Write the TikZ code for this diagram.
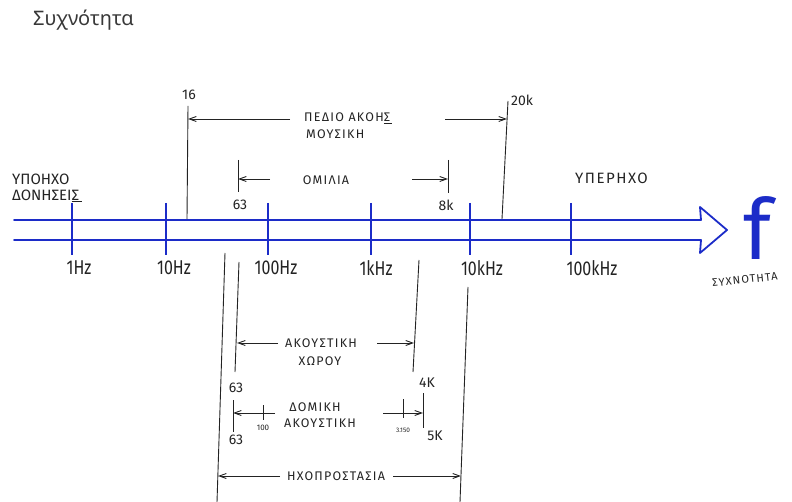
\documentclass[tikz,border=0pt]{standalone}
\usepackage{fontspec}
\setmainfont{Noto Sans}
\newfontfamily\handfont[FakeStretch=0.8]{Fira Sans}
\newfontfamily\notefont[LetterSpace=10]{Fira Sans}
\newfontfamily\numfont{Fira Sans}
\usetikzlibrary{arrows.meta}
\definecolor{axisblue}{RGB}{28,44,200}
\definecolor{ink}{RGB}{35,35,35}
\begin{document}
\begin{tikzpicture}[x=1pt,y=-1pt,
  axisline/.style={draw=axisblue,line width=1.8pt,line join=round,line cap=round},
  tickline/.style={draw=axisblue,line width=2pt},
  dimline/.style={draw=ink,line width=0.9pt},
  dimarrow/.style={dimline,-{Straight Barb[length=7pt,width=5pt]}},
  lbl/.style={font=\handfont\fontsize{20}{20}\selectfont,text=ink,inner sep=0pt},
  note/.style={font=\notefont\fontsize{12.5}{13}\selectfont,text=ink,inner sep=0pt},
  bignote/.style={font=\numfont\fontsize{15}{15}\selectfont,text=ink,inner sep=0pt},
  num/.style={font=\numfont\fontsize{14}{14}\selectfont,text=ink,inner sep=0pt},
  tiny/.style={font=\numfont\fontsize{8}{8}\selectfont,text=ink,inner sep=0pt}]
\useasboundingbox (0,0) rectangle (792,502);
% title
\node[font=\fontsize{20}{20}\selectfont,text=black!78,anchor=west,inner sep=0pt] (title) at (33,20) {Συχνότητα};
% main axis arrow
\coordinate (a1) at (14,220); \coordinate (a2) at (701,220);
\coordinate (b1) at (14,240); \coordinate (b2) at (701,240);
\coordinate (h1) at (700,207); \coordinate (tip) at (727,230); \coordinate (h2) at (700,253);
\draw[axisline] (a1) -- (a2) -- (h1) -- (tip) -- (h2) -- (b2) -- (b1);
% ticks and labels
\foreach \x/\lab/\lx [count=\i] in {72/1Hz/79,166/10Hz/174,268/100Hz/276,371/1kHz/376,470/10kHz/482,571/100kHz/592}{
  \coordinate (tt\i) at (\x,203); \coordinate (tb\i) at (\x,255);
  \draw[tickline] (tt\i) -- (tb\i);
  \node[lbl] (tl\i) at (\lx,268) {\lab};
}
% f
\node[text=axisblue,font=\numfont\fontsize{84}{84}\selectfont,inner sep=0pt,anchor=base,text depth=0pt] (f) at (758,260) {f};
\node[font=\notefont\fontsize{11}{11}\selectfont,text=ink,inner sep=0pt,rotate=6,anchor=west] (sx) at (712,283) {ΣΥΧΝΟΤΗΤΑ};
% infra / ultra sound
\node[bignote,anchor=west] (ypo1) at (12,179) {ΥΠΟΗΧΟ};
\node[bignote,anchor=west] (ypo2) at (12,196) {ΔΟΝΗΣΕΙ\underline{Σ\,}};
\node[bignote,font=\notefont\fontsize{15}{15}\selectfont,anchor=west] (yper) at (575,178) {ΥΠΕΡΗΧΟ};
% hearing range 16 - 20k
\coordinate (p16t) at (188,106); \coordinate (p16b) at (187,219);
\coordinate (p20t) at (508,101); \coordinate (p20b) at (502,219);
\draw[dimline] (p16t) -- (p16b);
\draw[dimline] (p20t) -- (p20b);
\node[num] (n16) at (189,95) {16};
\node[num,anchor=west] (n20) at (511,100) {20k};
\coordinate (pa1) at (290,119); \coordinate (pa1e) at (188,119);
\coordinate (pa2) at (445,119); \coordinate (pa2e) at (507,119);
\draw[dimarrow] (pa1) -- (pa1e);
\draw[dimarrow] (pa2) -- (pa2e);
\node[note,anchor=west] (ped1) at (304,118) {ΠΕΔΙΟ ΑΚΟΗ\underline{Σ\,}};
\node[note,anchor=west] (ped2) at (306,134) {ΜΟΥΣΙΚΗ};
% speech 63 - 8k
\coordinate (o63t) at (238,160); \coordinate (o63b) at (238,192);
\coordinate (o8t) at (448,160); \coordinate (o8b) at (448,193);
\draw[dimline] (o63t) -- (o63b);
\draw[dimline] (o8t) -- (o8b);
\node[num] (n63a) at (240,205) {63};
\node[num] (n8k) at (446,205) {8k};
\coordinate (oa1) at (270,179); \coordinate (oa1e) at (238,179);
\coordinate (oa2) at (412,179); \coordinate (oa2e) at (448,179);
\draw[dimarrow] (oa1) -- (oa1e);
\draw[dimarrow] (oa2) -- (oa2e);
\node[note] (omilia) at (326,180) {ΟΜΙΛΙΑ};
% lower vertical lines
\coordinate (hl1) at (225,253); \coordinate (hl2) at (217,502);
\coordinate (al1) at (239,262); \coordinate (al2) at (235,372);
\coordinate (k4a) at (419,260); \coordinate (k4b) at (413,372);
\coordinate (hr1) at (468,287); \coordinate (hr2) at (460,502);
\draw[dimline] (hl1) -- (hl2);
\draw[dimline] (al1) -- (al2);
\draw[dimline] (k4a) -- (k4b);
\draw[dimline] (hr1) -- (hr2);
% room acoustics
\coordinate (ra1) at (278,343); \coordinate (ra1e) at (237,343);
\coordinate (ra2) at (377,343); \coordinate (ra2e) at (414,343);
\draw[dimarrow] (ra1) -- (ra1e);
\draw[dimarrow] (ra2) -- (ra2e);
\node[note] (ak1) at (321,343) {ΑΚΟΥΣΤΙΚΗ};
\node[note] (ak2) at (320,361) {ΧΩΡΟΥ};
\node[num] (n63b) at (236,388) {63};
\node[num] (n4k) at (427,383) {4Κ};
% building acoustics
\coordinate (d63t) at (233,400); \coordinate (d63b) at (233,432);
\coordinate (d100t) at (263,405); \coordinate (d100b) at (263,420);
\coordinate (d315t) at (403,399); \coordinate (d315b) at (403,418);
\coordinate (d5kt) at (423,393); \coordinate (d5kb) at (423,428);
\draw[dimline] (d63t) -- (d63b);
\draw[dimline] (d100t) -- (d100b);
\draw[dimline] (d315t) -- (d315b);
\draw[dimline] (d5kt) -- (d5kb);
\coordinate (da1) at (275,413); \coordinate (da1e) at (233,413);
\coordinate (da2) at (383,413); \coordinate (da2e) at (423,413);
\draw[dimarrow] (da1) -- (da1e);
\draw[dimarrow] (da2) -- (da2e);
\node[tiny] (n100) at (263,428) {100};
\node[num] (n63c) at (236,440) {63};
\node[tiny,font=\numfont\fontsize{6.5}{7}\selectfont] (n315) at (403,430) {3.150};
\node[num] (n5k) at (435,436) {5Κ};
\node[note] (dom1) at (315,407) {ΔΟΜΙΚΗ};
\node[note] (dom2) at (320,423) {ΑΚΟΥΣΤΙΚΗ};
% noise protection
\coordinate (na1) at (280,476); \coordinate (na1e) at (218,476);
\coordinate (na2) at (393,476); \coordinate (na2e) at (461,476);
\draw[dimarrow] (na1) -- (na1e);
\draw[dimarrow] (na2) -- (na2e);
\node[note] (hxo) at (336,476) {ΗΧΟΠΡΟΣΤΑΣΙΑ};
\end{tikzpicture}
\end{document}
